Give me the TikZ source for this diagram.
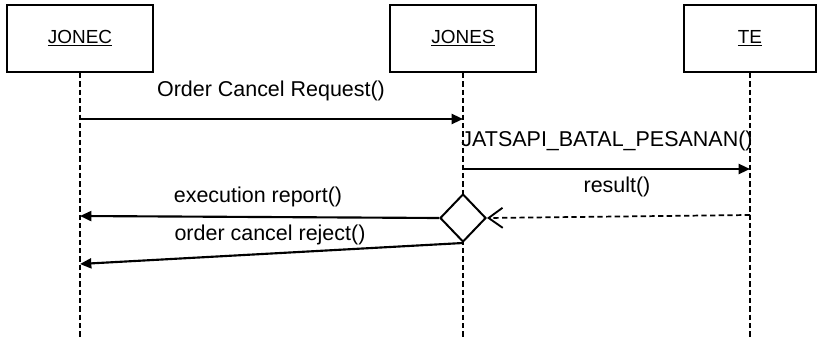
\documentclass[tikz,border=0pt]{standalone}
\usepackage{fontspec}
\setmainfont{Liberation Sans}
\usetikzlibrary{arrows.meta,shapes.geometric}

\begin{document}
\begin{tikzpicture}[x=0.75pt,y=-0.75pt,
    actor/.style={draw,line width=1.5pt,minimum width=109.5pt,minimum height=50.25pt,inner sep=0pt,font=\fontsize{14.2}{16}\selectfont},
    lifeline/.style={line width=1.1pt,dash pattern=on 4pt off 2.25pt},
    call/.style={line width=1.6pt,-{Triangle[length=8.5pt,width=7.5pt]}},
    reply/.style={line width=1.3pt,dash pattern=on 4pt off 2.5pt,-{Straight Barb[length=10.5pt,width=15pt,line width=1.4pt]}},
    lbl/.style={anchor=base,inner sep=0pt,font=\fontsize{16.1}{18}\selectfont}]
    \useasboundingbox (0,0) rectangle (817,338);

    \node[actor] (jonec) at (80,38.5) {\underline{JONEC}};
    \node[actor] (jones) at (463,38.5) {\underline{JONES}};
    \node[actor,minimum width=99pt] (te) at (750,38.5) {\underline{TE}};

    \coordinate (jonecEnd) at (80,338);
    \coordinate (jonesEnd) at (463,338);
    \coordinate (teEnd) at (750,338);

    \draw[lifeline] (jonec.south) -- (jonecEnd);
    \draw[lifeline] (jones.south) -- (jonesEnd);
    \draw[lifeline] (te.south) -- (teEnd);

    \coordinate (reqFrom) at (80,119);
    \coordinate (reqTo) at (463,119);
    \coordinate (batalFrom) at (463,169);
    \coordinate (batalTo) at (750,169);
    \coordinate (resFrom) at (750,215);
    \coordinate (execTo) at (80,216);
    \coordinate (rejTo) at (80,264);

    \node[draw,diamond,fill=white,line width=1.5pt,minimum width=34.5pt,minimum height=36pt,inner sep=0pt] (choice) at (463,218) {};

    \node[lbl] (reqLbl) at (271,97) {Order Cancel Request()};
    \node[lbl] (batalLbl) at (607,147) {JATSAPI\_BATAL\_PESANAN()};
    \node[lbl] (resLbl) at (617,193) {result()};
    \node[lbl] (execLbl) at (258,203) {execution report()};
    \node[lbl] (rejLbl) at (270,241) {order cancel reject()};

    \draw[call] (reqFrom) -- (reqTo);
    \draw[call] (batalFrom) -- (batalTo);
    \draw[reply] (resFrom) -- (choice.east);
    \draw[call] (choice.west) -- (execTo);
    \draw[call] (choice.south) -- (rejTo);
\end{tikzpicture}
\end{document}
